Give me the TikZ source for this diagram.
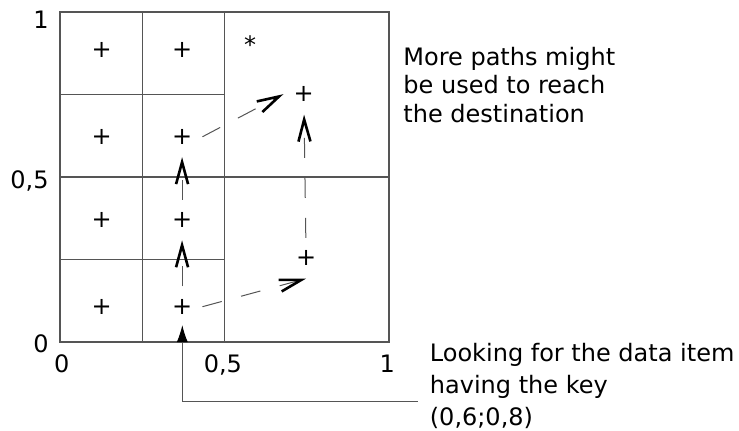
\documentclass[tikz,border=0pt]{standalone}
\usepackage{fontspec}
\setmainfont{DejaVu Sans}
\usetikzlibrary{arrows.meta}
\definecolor{linegray}{HTML}{555555}
\begin{document}
\begin{tikzpicture}[x=164.5pt, y=165pt,
        font=\fontsize{12}{14.25}\selectfont,
        grid/.style={draw=linegray, line width=0.65pt},
        pt/.style={minimum size=20pt, inner sep=0pt},
        tick/.style={inner sep=0pt},
        hop/.style={draw=linegray, line width=0.5pt, dash pattern=on 10pt off 10pt,
            -{Straight Barb[length=11pt, width=6pt, line width=1.3pt, color=black]}},
        lookup/.style={draw=linegray, line width=0.5pt, -{Latex[length=8.5pt, width=5.5pt, color=black]}}
    ]
    \useasboundingbox (-0.1824,-0.2667) rectangle (2.0638,1.0364);

    % Key space
    \draw[grid] (0,0) rectangle (1,1);
    \draw[grid] (0.5,0) -- (0.5,1);
    \draw[grid] (0.25,0) -- (0.25,1);
    \draw[grid] (0,0.5) -- (1,0.5);
    \draw[grid] (0,0.75) -- (0.5,0.75);
    \draw[grid] (0,0.25) -- (0.5,0.25);

    % Axis values
    \node[tick, anchor=base east] (y1) at (-0.0334,0.9515) {1};
    \node[tick, anchor=base east] (y05) at (-0.0334,0.4667) {0,5};
    \node[tick, anchor=base east] (y0) at (-0.0334,-0.0303) {0};
    \node[tick, anchor=base] (x0) at (0.005,-0.0909) {0};
    \node[tick, anchor=base] (x05) at (0.495,-0.0909) {0,5};
    \node[tick, anchor=base] (x1) at (0.995,-0.0909) {1};

    % Nodes of the overlay
    \node[pt] (p14) at (0.127,0.885) {+};
    \node[pt] (q14) at (0.371,0.885) {+};
    \node[pt] (p13) at (0.127,0.622) {+};
    \node[pt] (q13) at (0.371,0.622) {+};
    \node[pt] (p12) at (0.127,0.370) {+};
    \node[pt] (q12) at (0.371,0.370) {+};
    \node[pt] (p11) at (0.127,0.107) {+};
    \node[pt] (q11) at (0.371,0.107) {+};
    \node[pt] (r2) at (0.741,0.751) {+};
    \node[pt] (r1) at (0.748,0.254) {+};
    \node[pt] (dest) at (0.578,0.900) {*};

    % Routing steps
    \draw[hop] (q11) -- (q12);
    \draw[hop] (q12) -- (q13);
    \draw[hop] (q13.east) -- (r2.west);
    \draw[hop] (q11.east) -- (r1.south);
    \draw[hop] (r1) -- (r2);

    % Notes
    \node[tick, anchor=base west, align=left] (paths) at (1.0426,0.6667)
        {More paths might\\be used to reach\\the destination};
    \node[tick, anchor=base west, align=left, font=\fontsize{12}{15.8}\selectfont] (query) at (1.123,-0.1555)
        {Looking for the data item\\having the key};
    \node[tick, anchor=base west] (key) at (1.123,-0.2515) {(0,6;0,8)};
    \coordinate (entry) at (0.3717,0.0515);
    \draw[lookup] ([xshift=-5.75pt,yshift=2.5pt]key.north west) -| (entry);
\end{tikzpicture}
\end{document}
